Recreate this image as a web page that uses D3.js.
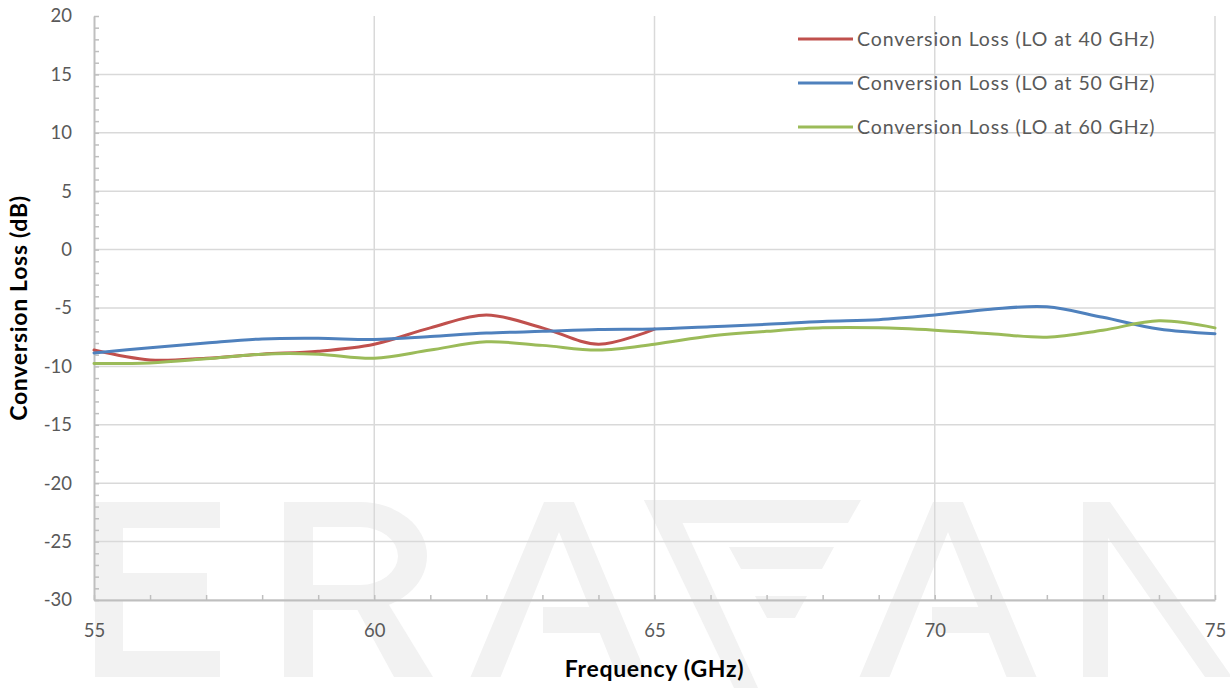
<!DOCTYPE html>
<html>
<head>
<meta charset="utf-8">
<script src="https://cdn.jsdelivr.net/npm/d3@7"></script>
<style>
  body { margin: 0; background: #fff; }
  svg { display: block; }
</style>
</head>
<body>
<svg id="chart-svg"></svg>
<script>
// values, one per GHz
const freqs = d3.range(55, 76, 1)
const lossLo40 = [-8.6, -9.45, -9.3, -8.95, -8.7, -8.1, -6.7, -5.6, -6.7, -8.1, -6.8]
const lossLo50 = [-8.85, -8.4, -8.0, -7.65, -7.6, -7.7, -7.45, -7.15, -7.0, -6.85, -6.8,
                  -6.6, -6.4, -6.15, -6.0, -5.6, -5.1, -4.9, -5.8, -6.8, -7.2]
const lossLo60 = [-9.75, -9.7, -9.35, -8.95, -8.95, -9.3, -8.6, -7.9, -8.2, -8.6, -8.1,
                  -7.4, -7.0, -6.7, -6.7, -6.9, -7.2, -7.5, -6.9, -6.1, -6.7]
const seriesNames = ['Conversion Loss (LO at 40 GHz)', 'Conversion Loss (LO at 50 GHz)', 'Conversion Loss (LO at 60 GHz)']
const seriesColors = ['#c0504d', '#4f81bd', '#9bbb59']
const xTicks = [55, 60, 65, 70, 75]
const yTicks = d3.range(-30, 21, 5)

const W = 1230, H = 688
const margin = {top: 16, right: 15, bottom: 88, left: 94}
const font = "Lato, 'Open Sans', sans-serif"

const svg = d3.select('#chart-svg').attr('width', W).attr('height', H)

const x = d3.scaleLinear().domain([55, 75]).range([margin.left, W - margin.right])
const y = d3.scaleLinear().domain([-30, 20]).range([H - margin.bottom, margin.top])

// faint logo watermark behind the plot (decoration, pixel coords)
const wm = svg.append('g').attr('fill', '#f2f2f2')
const A = (cx, top, bot) => {
    const hw = 15, sl = 0.42, t = 30
    const ob = sl * (bot - top)
    wm.append('path').attr('fill-rule', 'evenodd').attr('d',
        `M${cx - hw},${top} L${cx + hw},${top} L${cx + hw + ob},${bot} L${cx + hw + ob - t},${bot}
         L${cx},${top + 30} L${cx - hw - ob + t},${bot} L${cx - hw - ob},${bot} Z`)
    const barTop = 607, barBot = 633
    wm.append('path').attr('d',
        `M${cx - 16},${barTop} L${cx + hw + sl * (barTop - top) - t + 4},${barTop}
         L${cx + hw + sl * (barBot - top) - t + 4},${barBot} L${cx - 16},${barBot} Z`)
}
// E
wm.append('path').attr('d', 'M95,502 H220 V528 H123 V573 H207 V601 H123 V651 H220 V677 H95 Z')
// R
wm.append('path').attr('fill-rule', 'evenodd').attr('d',
    'M284,502 H360 A67,54 0 0 1 360,610 H313 V677 H284 Z M313,527 H360 A38,29 0 0 1 360,585 H313 Z')
wm.append('path').attr('d', 'M352,600 L386,600 L433,677 L394,677 Z')
A(559, 502, 677)
// stylised V: solid left leg, striped right side
wm.append('path').attr('d', 'M644,500 L672,500 L758,688 L734,688 Z')
wm.append('path').attr('d', 'M644,500 L861,500 L848,523 L657,523 Z')
wm.append('path').attr('d', 'M729,547 L834,547 L822,569 L741,569 Z')
wm.append('path').attr('d', 'M755,596 L807,596 L795,618 L767,618 Z')
A(948, 502, 677)
// N
wm.append('path').attr('d', 'M1083,502 H1108 V677 H1083 Z')
wm.append('path').attr('d', 'M1083,502 L1110,502 L1232,677 L1205,677 Z')

// gridlines
svg.append('g')
    .selectAll('line').data(yTicks.filter(d => d < 20)).join('line')
    .attr('x1', x(55)).attr('x2', x(75))
    .attr('y1', d => y(d)).attr('y2', d => y(d))
    .attr('stroke', '#d9d9d9').attr('stroke-width', 1.5)
svg.append('g')
    .selectAll('line').data(xTicks.filter(d => d > 55)).join('line')
    .attr('x1', d => x(d)).attr('x2', d => x(d))
    .attr('y1', y(20)).attr('y2', y(-30))
    .attr('stroke', '#d9d9d9').attr('stroke-width', 1.5)

// minor ticks
svg.append('g')
    .attr('transform', `translate(${margin.left},0)`)
    .call(d3.axisLeft(y).tickValues(d3.range(-30, 21, 1)).tickSize(-5).tickFormat(''))
    .call(g => g.select('.domain').remove())
    .selectAll('line').attr('stroke', '#bfbfbf').attr('stroke-width', 1.5)
svg.append('g')
    .attr('transform', `translate(0,${H - margin.bottom})`)
    .call(d3.axisBottom(x).tickValues(d3.range(55, 76, 1)).tickSize(-5).tickFormat(''))
    .call(g => g.select('.domain').remove())
    .selectAll('line').attr('stroke', '#bfbfbf').attr('stroke-width', 1.5)

// axes (plain hyphen minus like the original)
const yAxis = svg.append('g')
    .attr('transform', `translate(${margin.left},0)`)
    .call(d3.axisLeft(y).tickValues(yTicks).tickSize(0).tickPadding(22).tickFormat(d => String(d)))
const xAxis = svg.append('g')
    .attr('transform', `translate(0,${H - margin.bottom})`)
    .call(d3.axisBottom(x).tickValues(xTicks).tickSize(0).tickPadding(24).tickFormat(d => String(d)))
;[yAxis, xAxis].forEach(g => {
    g.select('.domain').attr('stroke', '#bfbfbf').attr('stroke-width', 2)
    g.selectAll('text').attr('fill', '#595959').style('font-family', font).style('font-size', '18.5px')
})

// series
const line = d3.line()
    .x(d => x(d[0]))
    .y(d => y(d[1]))
    .curve(d3.curveCatmullRom.alpha(0.5))
const allSeries = [lossLo40, lossLo50, lossLo60]
allSeries.forEach((vals, i) => {
    svg.append('path')
        .datum(vals.map((v, j) => [freqs[j], v]))
        .attr('fill', 'none')
        .attr('stroke', seriesColors[i])
        .attr('stroke-width', 3)
        .attr('stroke-linecap', 'round')
        .attr('d', line)
})

// legend
const legend = svg.append('g').attr('transform', 'translate(798,39)')
seriesNames.forEach((name, i) => {
    const row = legend.append('g').attr('transform', `translate(0,${i * 44})`)
    row.append('line').attr('x1', 0).attr('x2', 55)
        .attr('stroke', seriesColors[i]).attr('stroke-width', 3)
    row.append('text').attr('x', 59).attr('dy', '0.35em')
        .attr('fill', '#595959').style('font-family', font).style('font-size', '19.5px')
        .style('letter-spacing', '0.9px')
        .text(name)
})

// axis titles
svg.append('text')
    .attr('x', (x(55) + x(75)) / 2).attr('y', 677)
    .attr('text-anchor', 'middle')
    .style('font-family', font).style('font-size', '23px').style('font-weight', 'bold')
    .style('letter-spacing', '0.7px')
    .text('Frequency (GHz)')
svg.append('text')
    .attr('transform', `translate(27,${(y(20) + y(-30)) / 2}) rotate(-90)`)
    .attr('text-anchor', 'middle')
    .style('font-family', font).style('font-size', '23px').style('font-weight', 'bold')
    .style('letter-spacing', '0.7px')
    .text('Conversion Loss (dB)')
</script>
</body>
</html>
